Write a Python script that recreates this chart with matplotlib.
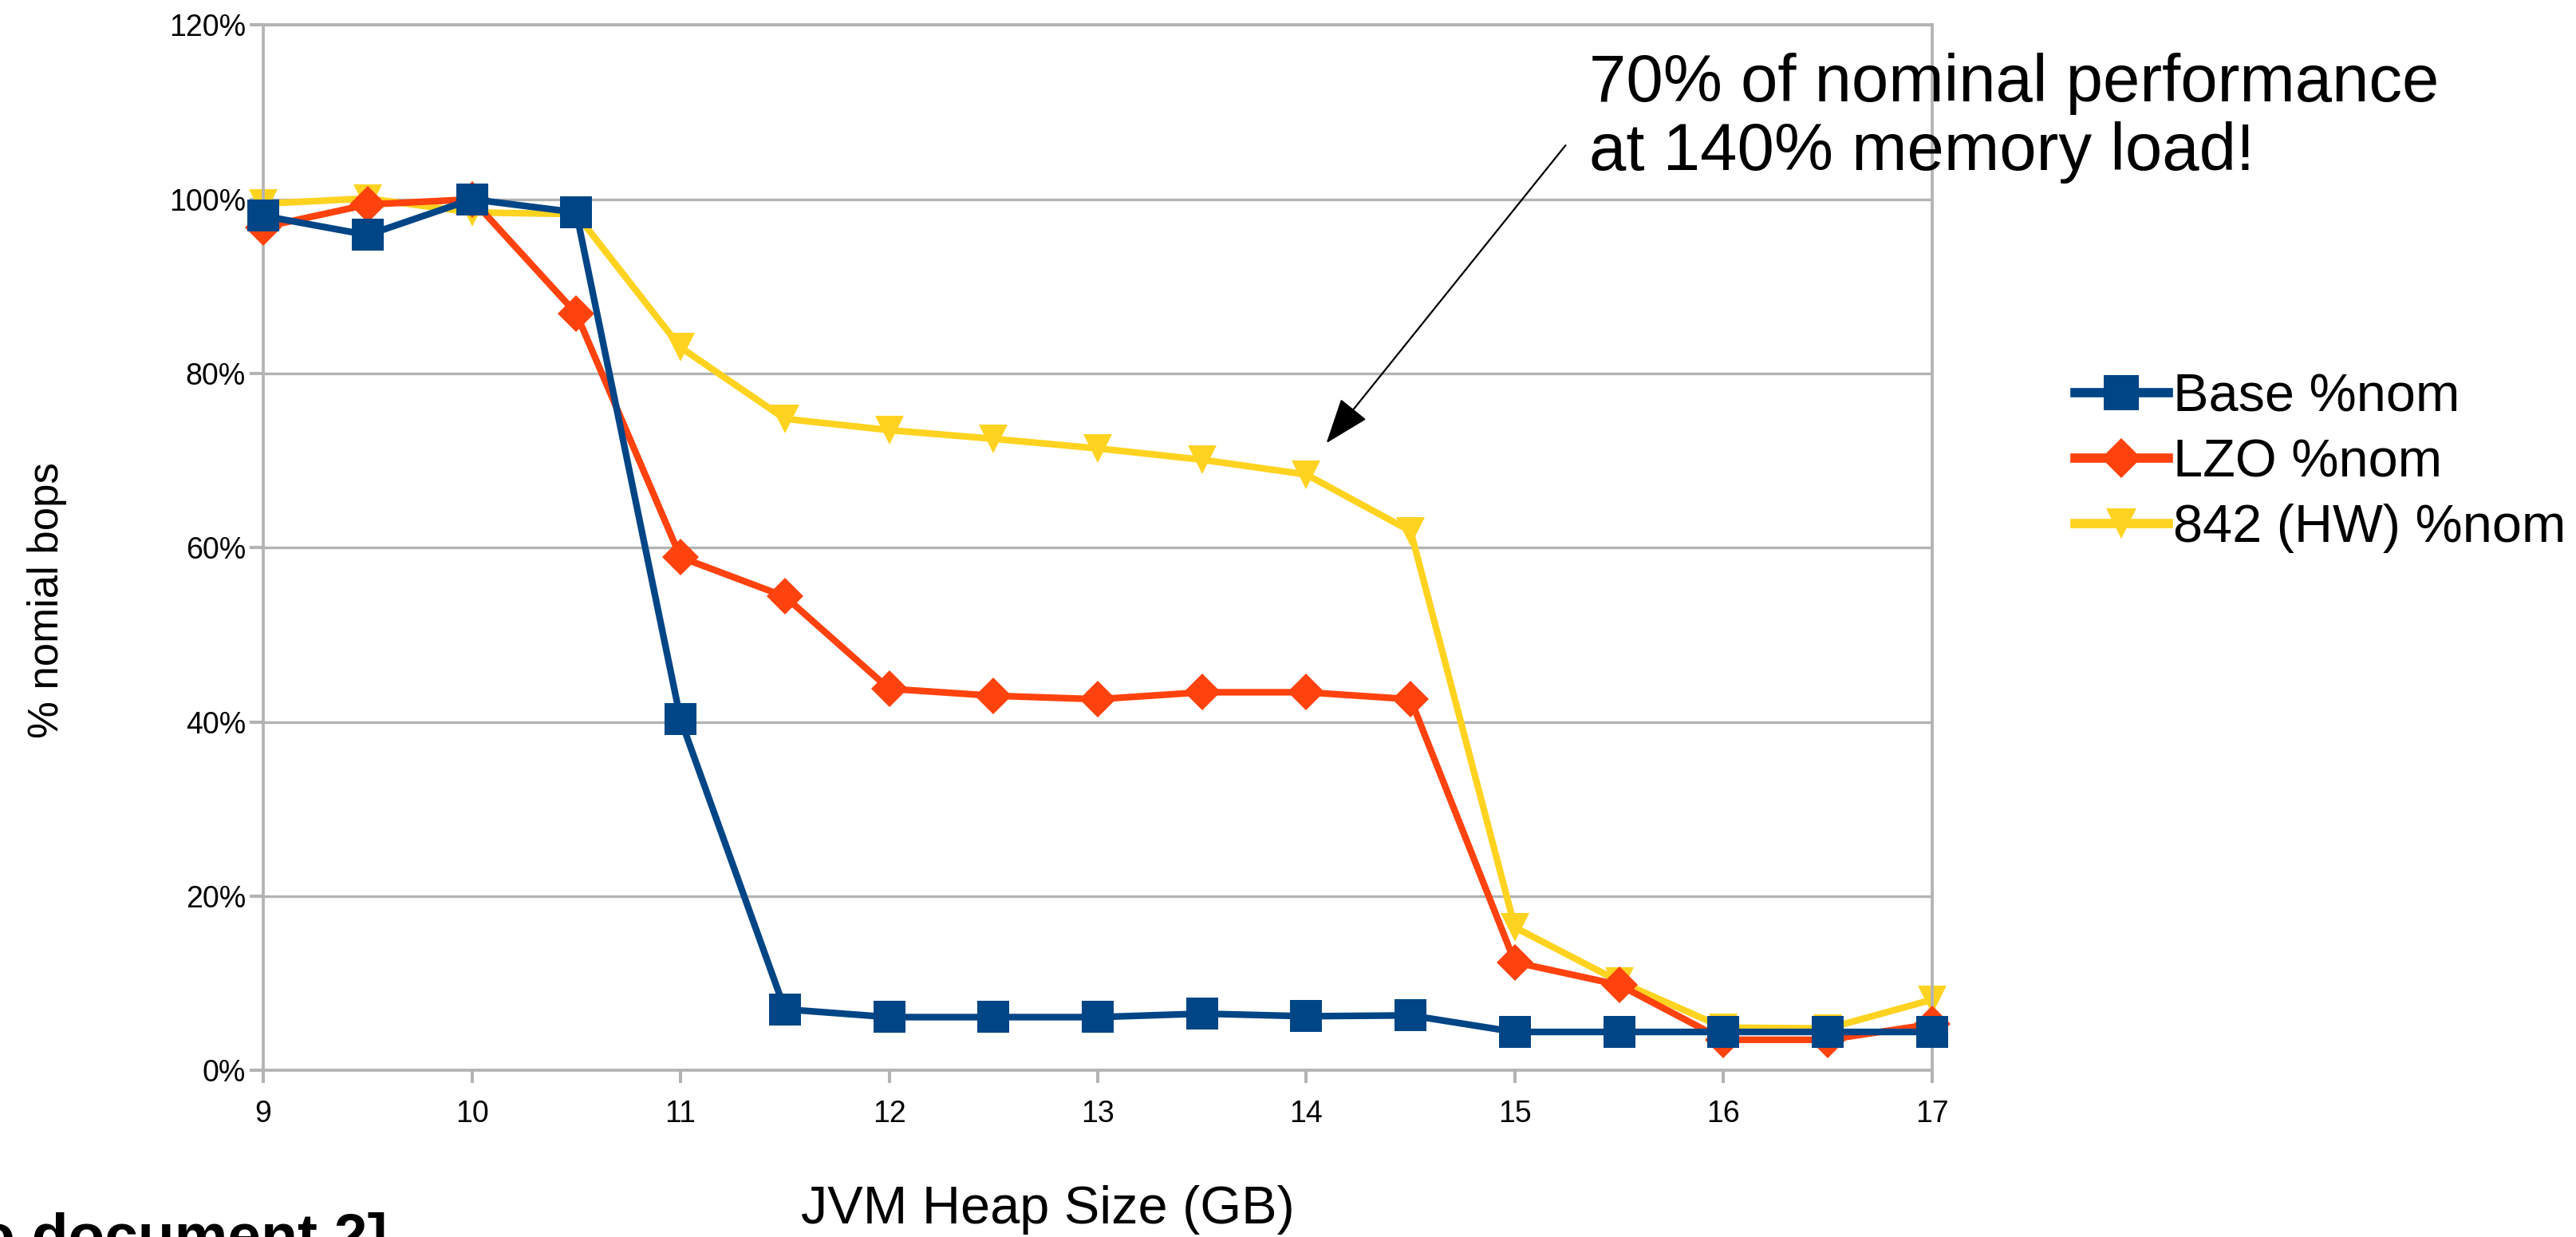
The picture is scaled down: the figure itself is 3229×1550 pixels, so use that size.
import matplotlib.pyplot as plt
from matplotlib.lines import Line2D
from matplotlib.ticker import FuncFormatter, MultipleLocator

plt.rcParams['font.family'] = ['Liberation Sans', 'DejaVu Sans']

# heap size in GB and % of nominal bops for each configuration
heap_gb = [9, 9.5, 10, 10.5, 11, 11.5, 12, 12.5, 13, 13.5, 14, 14.5, 15, 15.5, 16, 16.5, 17]
base_nom = [98.1, 95.9, 100.0, 98.5, 40.3, 7.0, 6.1, 6.1, 6.1, 6.5, 6.2, 6.3, 4.4, 4.4, 4.4, 4.4, 4.4]
lzo_nom = [96.8, 99.4, 100.0, 86.9, 58.9, 54.4, 43.8, 43.0, 42.6, 43.4, 43.4, 42.6, 12.4, 9.8, 3.5, 3.5, 5.3]
hw842_nom = [99.5, 100.1, 98.5, 98.3, 83.0, 74.8, 73.5, 72.5, 71.4, 70.1, 68.4, 61.9, 16.4, 10.2, 4.9, 4.8, 8.1]

series_names = ['Base %nom', 'LZO %nom', '842 (HW) %nom']
colors = ['#004586', '#ff420e', '#ffd320']
markers = ['s', 'D', 'v']
msizes = [29, 23, 26]

grey = '#b3b3b3'

fig = plt.figure(figsize=(32.3, 15.5), dpi=100)
ax = fig.add_axes([0.1022, 0.1348, 0.6476, 0.8449])

# yellow underneath, base on top
for ys, col, mk, ms, z in zip([hw842_nom, lzo_nom, base_nom], colors[::-1],
                              markers[::-1], msizes[::-1], [2, 3, 4]):
    ax.plot(heap_gb, ys, color=col, lw=6, marker=mk, ms=ms,
            markeredgewidth=0, zorder=z, clip_on=False)

ax.set_xlim(9, 17)
ax.set_ylim(0, 120)
ax.xaxis.set_major_locator(MultipleLocator(1))
ax.yaxis.set_major_locator(MultipleLocator(20))
ax.yaxis.set_major_formatter(FuncFormatter(lambda v, p: f'{v:.0f}%'))

ax.grid(axis='y', color=grey, lw=2.4, zorder=0)
ax.set_axisbelow(True)
for sp in ax.spines.values():
    sp.set_color(grey)
    sp.set_linewidth(2.7)

ax.tick_params(axis='x', length=11.5, width=2.9, color=grey, labelsize=27, pad=15)
ax.tick_params(axis='y', length=12, width=2.9, color=grey, labelsize=27, pad=4)

ax.set_xlabel('JVM Heap Size (GB)', fontsize=48, va='top')
ax.xaxis.set_label_coords(0.470, -0.110)
ax.set_ylabel('% nomial bops', fontsize=38)
ax.yaxis.set_label_coords(-0.1175, 0.4495)

handles = [Line2D([], [], color=c, lw=8.4, marker=m, ms=s + 2, markeredgewidth=0)
           for c, m, s in zip(colors, markers, msizes)]
ax.legend(handles, series_names, loc='center left', bbox_to_anchor=(1.0856, 0.581),
          frameon=False, fontsize=48, handlelength=1.75, handletextpad=0.1,
          labelspacing=0.3, borderpad=0, borderaxespad=0)

ax.annotate('', xy=(14.096, 72.0), xytext=(15.243, 106.2),
            arrowprops=dict(arrowstyle='-|>,head_length=0.9,head_width=0.33',
                            mutation_scale=40, color='black', lw=1.6,
                            shrinkA=0, shrinkB=0), annotation_clip=False)
ax.text(15.355, 116.8, '70% of nominal performance\nat 140% memory load!',
        fontsize=60, va='top', ha='left', linespacing=1.12, zorder=6)

fig.text(-0.0085, -0.0150, 'o document 2]', fontsize=54, fontweight='bold',
         ha='left', va='baseline')

fig.savefig('out.png', dpi=100)
